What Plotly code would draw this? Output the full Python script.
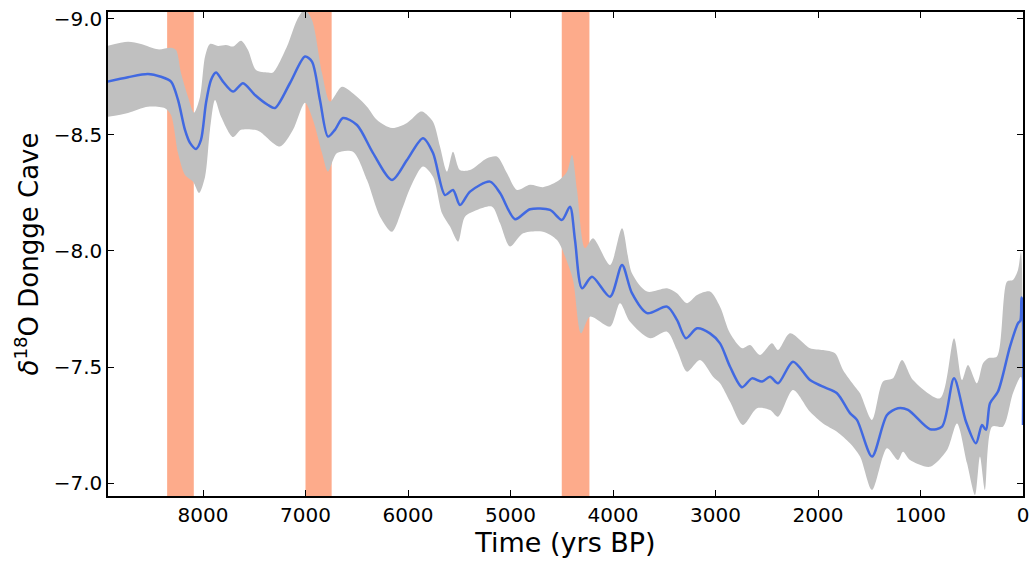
import plotly.graph_objects as go

# Mean delta18O curve (years BP, permil)
mean_years = [8930, 8732, 8537, 8410, 8312, 8244, 8176, 8127, 8068, 8020, 7971, 7922, 7873,
              7805, 7707, 7610, 7493, 7366, 7298, 7151, 7005, 6937, 6859, 6781, 6713, 6634,
              6498, 6341, 6156, 6010, 5854, 5756, 5639, 5561, 5493, 5395, 5200, 5102, 4956,
              4810, 4615, 4498, 4420, 4371, 4302, 4205, 4029, 3912, 3815, 3668, 3473, 3376,
              3288, 3180, 3054, 2956, 2858, 2741, 2644, 2546, 2468, 2390, 2244, 2078, 1951,
              1815, 1688, 1620, 1473, 1327, 1220, 1122, 907, 790, 673, 556, 459, 400, 361,
              322, 244, 127, 49, 25, 15, 5, 0]
mean_vals = [-8.730, -8.749, -8.763, -8.751, -8.730, -8.651, -8.522, -8.466, -8.440, -8.479,
             -8.638, -8.737, -8.769, -8.730, -8.687, -8.723, -8.672, -8.629, -8.616, -8.724,
             -8.838, -8.816, -8.651, -8.493, -8.522, -8.573, -8.543, -8.422, -8.306, -8.392,
             -8.486, -8.422, -8.241, -8.263, -8.198, -8.256, -8.299, -8.250, -8.137, -8.180,
             -8.177, -8.134, -8.191, -8.048, -7.839, -7.889, -7.803, -7.940, -7.818, -7.732,
             -7.760, -7.703, -7.624, -7.667, -7.645, -7.602, -7.501, -7.413, -7.451, -7.437,
             -7.458, -7.430, -7.523, -7.444, -7.415, -7.387, -7.301, -7.272, -7.114, -7.293,
             -7.322, -7.315, -7.232, -7.243, -7.451, -7.264, -7.171, -7.250, -7.229, -7.344,
             -7.394, -7.588, -7.688, -7.700, -7.800, -7.780, -7.250]

# Upper edge of the uncertainty band (more negative values)
upper_years = [8930, 8732, 8605, 8439, 8312, 8263, 8215, 8146, 8088, 8029, 7980, 7932, 7854,
               7776, 7707, 7629, 7561, 7483, 7366, 7317, 7181, 7083, 7010, 6937, 6839, 6761,
               6644, 6498, 6400, 6302, 6156, 6010, 5883, 5854, 5756, 5688, 5620, 5561, 5493,
               5395, 5229, 5132, 5034, 4937, 4810, 4683, 4546, 4449, 4400, 4351, 4273, 4195,
               4029, 3912, 3815, 3668, 3473, 3376, 3278, 3180, 3054, 2956, 2858, 2741, 2663,
               2566, 2449, 2390, 2273, 2078, 1951, 1834, 1756, 1639, 1590, 1473, 1366, 1268,
               1180, 1073, 810, 673, 595, 537, 449, 390, 341, 254, 156, 98, 49, 20, 0]
upper_vals = [-8.884, -8.902, -8.892, -8.869, -8.876, -8.866, -8.767, -8.664, -8.596, -8.665,
              -8.838, -8.892, -8.884, -8.888, -8.881, -8.906, -8.866, -8.780, -8.769, -8.769,
              -8.881, -8.996, -9.040, -8.996, -8.767, -8.644, -8.708, -8.665, -8.622, -8.565,
              -8.530, -8.552, -8.600, -8.600, -8.557, -8.450, -8.342, -8.428, -8.349, -8.349,
              -8.400, -8.407, -8.335, -8.263, -8.285, -8.275, -8.299, -8.342, -8.414, -8.263,
              -8.012, -8.055, -7.940, -8.098, -7.904, -7.825, -7.839, -7.818, -7.775, -7.810,
              -7.825, -7.760, -7.645, -7.581, -7.595, -7.552, -7.602, -7.573, -7.645, -7.581,
              -7.573, -7.559, -7.487, -7.415, -7.387, -7.272, -7.437, -7.451, -7.530, -7.444,
              -7.365, -7.624, -7.444, -7.509, -7.430, -7.516, -7.538, -7.545, -7.868, -7.875,
              -7.918, -7.996, -7.600]

# Lower edge of the uncertainty band (less negative values)
lower_years = [8930, 8732, 8537, 8371, 8312, 8244, 8176, 8098, 8039, 7980, 7932, 7883, 7824,
               7707, 7629, 7493, 7444, 7249, 7122, 7005, 6927, 6839, 6781, 6693, 6537, 6400,
               6273, 6156, 6049, 5980, 5854, 5756, 5668, 5590, 5512, 5444, 5327, 5180, 5102,
               5005, 4878, 4683, 4546, 4468, 4390, 4312, 4224, 4029, 3932, 3834, 3639, 3473,
               3376, 3278, 3151, 3024, 2956, 2858, 2732, 2595, 2468, 2390, 2244, 2078, 1951,
               1815, 1688, 1590, 1473, 1327, 1220, 1171, 1102, 907, 741, 644, 546, 468, 420,
               371, 302, 195, 98, 20, 0]
lower_vals = [-8.578, -8.595, -8.622, -8.615, -8.586, -8.422, -8.328, -8.299, -8.250, -8.320,
              -8.522, -8.651, -8.579, -8.491, -8.522, -8.522, -8.514, -8.450, -8.522, -8.639,
              -8.565, -8.422, -8.342, -8.422, -8.428, -8.306, -8.148, -8.083, -8.191, -8.270,
              -8.364, -8.320, -8.163, -8.105, -8.040, -8.148, -8.177, -8.191, -8.119, -8.019,
              -8.076, -8.083, -8.047, -7.976, -7.875, -7.645, -7.717, -7.674, -7.775, -7.695,
              -7.624, -7.652, -7.573, -7.480, -7.530, -7.458, -7.430, -7.350, -7.250, -7.322,
              -7.315, -7.286, -7.401, -7.307, -7.257, -7.221, -7.171, -7.114, -6.970, -7.150,
              -7.099, -7.135, -7.099, -7.070, -7.142, -7.257, -7.085, -6.948, -7.114, -6.970,
              -7.243, -7.243, -7.387, -7.458, -7.150]

# Highlighted dry events (start, end in years BP)
event_starts = [8350, 7000, 4500]
event_ends = [8090, 6745, 4230]

x_ticks = [8000, 7000, 6000, 5000, 4000, 3000, 2000, 1000, 0]
y_ticks = [-9.0, -8.5, -8.0, -7.5, -7.0]

FONT = "DejaVu Sans"

fig = go.Figure()

for s, e in zip(event_starts, event_ends):
    fig.add_vrect(x0=s, x1=e, fillcolor="#FDAB8B", line_width=0, layer="below", opacity=1)

band_x = upper_years + lower_years[::-1]
band_y = upper_vals + lower_vals[::-1]
fig.add_trace(go.Scatter(x=band_x, y=band_y, fill="toself", fillcolor="#C0C0C0",
                         line=dict(width=0, color="#C0C0C0", shape="spline", smoothing=0.8),
                         mode="lines", hoverinfo="skip", showlegend=False))

fig.add_trace(go.Scatter(x=mean_years, y=mean_vals, mode="lines",
                         line=dict(color="#4169E1", width=2.5, shape="spline", smoothing=0.8),
                         showlegend=False))

axis_common = dict(showline=True, linecolor="black", linewidth=1.5, mirror="allticks",
                   ticks="inside", ticklen=6, tickwidth=1, tickcolor="black",
                   showgrid=False, zeroline=False,
                   tickfont=dict(family=FONT, size=20, color="black"))

fig.update_xaxes(range=[8927, 0], tickvals=x_ticks, ticktext=[str(v) for v in x_ticks],
                 title=dict(text="Time (yrs BP)", font=dict(family=FONT, size=27, color="black"),
                            standoff=6),
                 **axis_common)
fig.update_yaxes(range=[-6.944, -9.03], tickvals=y_ticks,
                 ticktext=["\u2212" + f"{abs(v):.1f}" for v in y_ticks],
                 title=dict(text="<i>δ</i><sup>18</sup>O Dongge Cave",
                            font=dict(family=FONT, size=26, color="black"), standoff=8),
                 **axis_common)

fig.update_layout(width=1033, height=561,
                  margin=dict(l=108, r=10, t=12, b=65, autoexpand=False),
                  plot_bgcolor="white", paper_bgcolor="white",
                  font=dict(family=FONT, color="black"))

fig.write_html("out.html")
